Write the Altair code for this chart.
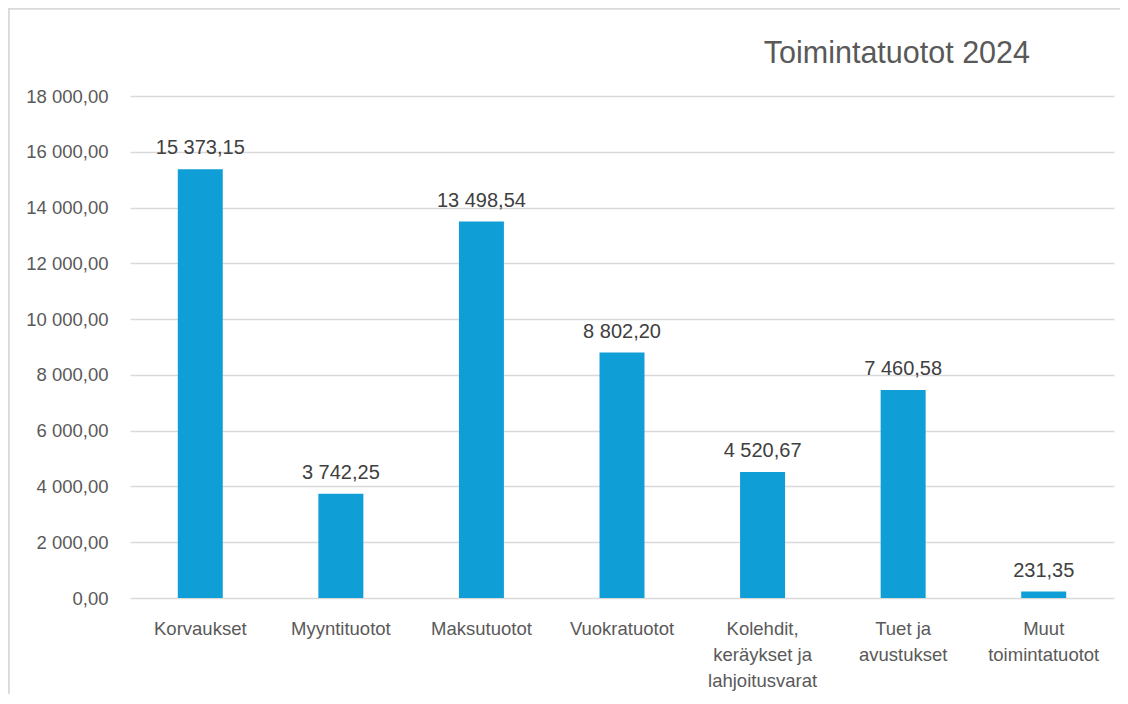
import altair as alt
import pandas as pd

categories = [
    "Korvaukset",
    "Myyntituotot",
    "Maksutuotot",
    "Vuokratuotot",
    "Kolehdit,\nkeräykset ja\nlahjoitusvarat",
    "Tuet ja\navustukset",
    "Muut\ntoimintatuotot",
]
values = [15373.15, 3742.25, 13498.54, 8802.20, 4520.67, 7460.58, 231.35]
y_ticks = [0, 2000, 4000, 6000, 8000, 10000, 12000, 14000, 16000, 18000]
title_text = "Toimintatuotot 2024"

df = pd.DataFrame({"cat": categories, "val": values})

FONT = "Liberation Sans"
BAR = "#0F9ED5"
GRID = "#D9D9D9"
AXIS_TXT = "#595959"
LBL_TXT = "#404040"

W, H = 984, 502
PAD = {"left": 122, "top": 88, "right": 6, "bottom": 96}

base = alt.Chart(df).encode(
    x=alt.X(
        "cat:N",
        sort=categories,
        scale=alt.Scale(paddingInner=0.68, paddingOuter=0.34),
        axis=alt.Axis(
            title=None,
            labelAngle=0,
            ticks=False,
            domain=False,
            grid=False,
            labelFont=FONT,
            labelFontSize=18.5,
            labelColor=AXIS_TXT,
            labelPadding=21,
            labelLineHeight=26,
            labelLimit=0,
            labelExpr="split(datum.label, '\\n')",
        ),
    ),
    y=alt.Y(
        "val:Q",
        scale=alt.Scale(domain=[0, 18000], nice=False),
        axis=alt.Axis(
            title=None,
            values=y_ticks,
            format=",.2f",
            ticks=False,
            domain=False,
            grid=True,
            gridColor=GRID,
            gridWidth=1.3,
            labelFont=FONT,
            labelFontSize=18.5,
            labelColor=AXIS_TXT,
            labelPadding=22,
        ),
    ),
)

bars = base.mark_bar(color=BAR)
labels = base.mark_text(
    font=FONT, fontSize=20, color=LBL_TXT, baseline="alphabetic", dy=-15
).encode(text=alt.Text("val:Q", format=",.2f"))

one = pd.DataFrame({"t": [title_text]})

# chart frame (decoration), kept inside the canvas
frame_top = alt.Chart(one).mark_rule(color=GRID, strokeWidth=1.8).encode(
    x=alt.value(-PAD["left"]),
    x2=alt.value(W + PAD["right"]),
    y=alt.value(-PAD["top"] + 0.9),
)
frame_left = alt.Chart(one).mark_rule(color=GRID, strokeWidth=1.8).encode(
    x=alt.value(-PAD["left"] + 0.9),
    y=alt.value(-PAD["top"]),
    y2=alt.value(H + PAD["bottom"]),
)

title = alt.Chart(one).mark_text(
    font=FONT, fontSize=30.5, color=AXIS_TXT, align="right", baseline="alphabetic"
).encode(
    text="t:N",
    x=alt.value(900),
    y=alt.value(-33),
)

chart = (
    alt.layer(frame_top, frame_left, bars, labels, title)
    .properties(
        width=W,
        height=H,
        autosize=alt.AutoSizeParams(type="none"),
        padding=PAD,
    )
    .configure(
        background="white",
        locale=alt.Locale(
            number=alt.NumberLocale(
                decimal=",", thousands="\u00a0", grouping=[3], currency=["", " €"]
            )
        ),
    )
    .configure_view(stroke=None)
)

chart.save("out.html", embed_options={"renderer": "svg", "actions": False})
